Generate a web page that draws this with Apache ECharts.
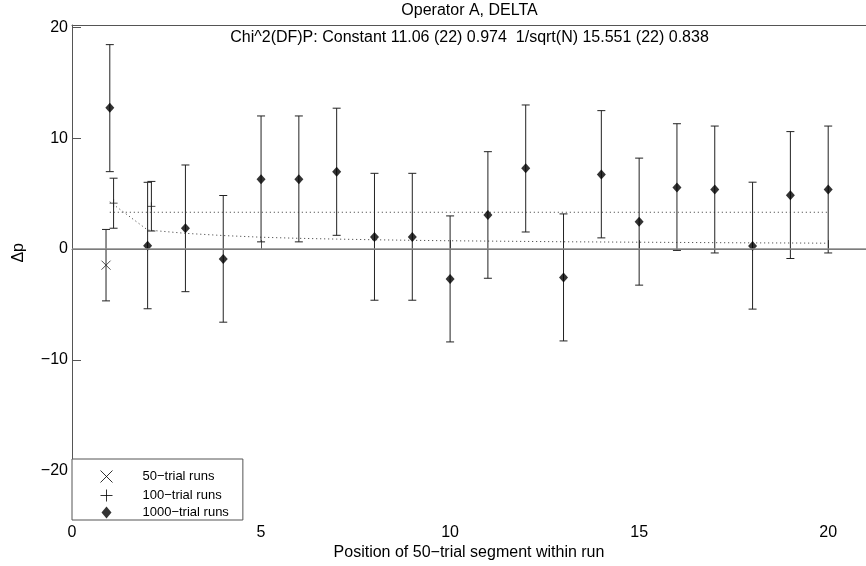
<!DOCTYPE html>
<html>
<head>
<meta charset="utf-8">
<script src="https://cdn.jsdelivr.net/npm/echarts@6/dist/echarts.min.js"></script>
<style>html,body{margin:0;padding:0;background:#fff}#c{width:866px;height:566px}</style>
</head>
<body>
<div id="c"></div>
<script>
// ---- data ----
const positions = [1, 2, 3, 4, 5, 6, 7, 8, 9, 10, 11, 12, 13, 14, 15, 16, 17, 18, 19, 20];
const mean1000 = [12.75, 0.30, 1.87, -0.89, 6.30, 6.30, 6.96, 1.10, 1.10, -2.69, 3.08, 7.28, -2.57, 6.72, 2.46, 5.56, 5.36, 0.27, 4.85, 5.36];
const high1000 = [18.43, 6.02, 7.58, 4.83, 12.00, 12.00, 12.70, 6.83, 6.83, 2.99, 8.78, 12.99, 3.17, 12.48, 8.20, 11.30, 11.09, 6.03, 10.59, 11.09];
const low1000  = [6.98, -5.38, -3.84, -6.59, 0.65, 0.65, 1.24, -4.61, -4.61, -8.37, -2.63, 1.54, -8.28, 1.01, -3.25, -0.12, -0.35, -5.41, -0.85, -0.35];

const pos50 = [0.9];
const mean50 = [-1.45];
const high50 = [1.77];
const low50 = [-4.67];

const pos100 = [1.1, 2.1];
const mean100 = [4.14, 3.85];
const high100 = [6.39, 6.10];
const low100 = [1.88, 1.63];

const fitPositions = [1, 2, 3, 4, 5, 6, 7, 8, 9, 10, 11, 12, 13, 14, 15, 16, 17, 18, 19, 20];
const sqrtFit = [4.26, 1.72, 1.42, 1.22, 1.07, 0.97, 0.90, 0.84, 0.79, 0.75, 0.72, 0.69, 0.66, 0.64, 0.62, 0.60, 0.58, 0.56, 0.55, 0.53];
const constPositions = [1, 20];
const constFit = [3.32, 3.32];

const xTicks = [0, 5, 10, 15, 20];
const yTicks = [-20, -10, 0, 10, 20];

const titleText = 'Operator A, DELTA';
const subText = 'Chi^2(DF)P: Constant 11.06 (22) 0.974  1/sqrt(N) 15.551 (22) 0.838';
const xName = 'Position of 50\u2212trial segment within run';
const yName = '\u0394p';
const names = ['50\u2212trial runs', '100\u2212trial runs', '1000\u2212trial runs'];

// ---- build ----
const FONT = '"Liberation Sans", Arial, Helvetica, sans-serif';
const zip = (a, b) => a.map((v, i) => [v, b[i]]);
const zip3 = (a, b, c) => a.map((v, i) => [v, b[i], c[i]]);
const minus = v => String(v).replace('-', '\u2212');

function errBars(params, api) {
  const x = api.value(0), lo = api.value(1), hi = api.value(2);
  const p1 = api.coord([x, hi]);
  const p2 = api.coord([x, lo]);
  const w = 4;
  const st = { stroke: '#222', lineWidth: 1 };
  return {
    type: 'group',
    children: [
      { type: 'line', shape: { x1: p1[0], y1: p1[1], x2: p2[0], y2: p2[1] }, style: st },
      { type: 'line', shape: { x1: p1[0] - w, y1: p1[1], x2: p1[0] + w, y2: p1[1] }, style: st },
      { type: 'line', shape: { x1: p2[0] - w, y1: p2[1], x2: p2[0] + w, y2: p2[1] }, style: st }
    ]
  };
}

const xPath = 'path://M0,0L10,10M10,0L0,10';
const plusPath = 'path://M5,0L5,10M0,5L10,5';
const diamondPath = 'path://M5,0L10,6L5,12L0,6Z';

const chart = echarts.init(document.getElementById('c'), null, { renderer: 'canvas' });
chart.setOption({
  animation: false,
  backgroundColor: '#fff',
  textStyle: { fontFamily: FONT, color: '#000' },
  title: [
    { text: titleText, left: 469.5, top: 3, textAlign: 'center', padding: 0,
      textStyle: { fontFamily: FONT, fontSize: 16, fontWeight: 'normal', color: '#000' } },
    { text: subText, left: 469.5, top: 30, textAlign: 'center', padding: 0,
      textStyle: { fontFamily: FONT, fontSize: 16, fontWeight: 'normal', color: '#000' } }
  ],
  grid: { left: 72, top: 25, width: 796, height: 496, containLabel: false },
  legend: {
    orient: 'vertical', left: 72, top: 459,
    padding: [9, 14, 1, 26], itemWidth: 62, itemHeight: 12, itemGap: 2,
    backgroundColor: '#fff', borderColor: '#555', borderWidth: 1, borderRadius: 0,
    textStyle: { fontFamily: FONT, fontSize: 13, color: '#000' },
    data: [
      { name: names[0], icon: xPath, itemStyle: { color: 'none', borderColor: '#000', borderWidth: 1 } },
      { name: names[1], icon: plusPath, itemStyle: { color: 'none', borderColor: '#000', borderWidth: 1 } },
      { name: names[2], icon: diamondPath, itemStyle: { color: '#000', borderWidth: 0 } }
    ]
  },
  xAxis: [{
    type: 'value', min: 0, max: 21,
    name: xName, nameLocation: 'middle', nameGap: 28,
    nameTextStyle: { fontFamily: FONT, fontSize: 16, color: '#000' },
    axisLine: { show: true, lineStyle: { color: '#555', width: 1 } },
    axisTick: { show: true, inside: true, length: 9, customValues: xTicks, lineStyle: { color: '#555' } },
    axisLabel: { customValues: xTicks, margin: 11, fontFamily: FONT, fontSize: 16, color: '#000', formatter: minus },
    splitLine: { show: false }
  }, {
    type: 'value', min: 0, max: 21, position: 'top',
    axisLine: { show: true, onZero: false, lineStyle: { color: '#555', width: 1 } },
    axisTick: { show: false }, axisLabel: { show: false }, splitLine: { show: false }
  }],
  yAxis: {
    type: 'value', min: -23.8, max: 20.2,
    axisLine: { show: true, onZero: false, lineStyle: { color: '#555', width: 1 } },
    axisTick: { show: true, inside: true, length: 9, customValues: yTicks, lineStyle: { color: '#555' } },
    axisLabel: { customValues: yTicks, margin: 4, fontFamily: FONT, fontSize: 16, color: '#000', formatter: minus },
    splitLine: { show: false }
  },
  graphic: [{
    type: 'text', left: 11, top: 243, rotation: Math.PI / 2,
    style: { text: yName, fontFamily: FONT, fontSize: 16, fill: '#000' }
  }],
  series: [
    { type: 'line', name: 'const', data: zip(constPositions, constFit), symbol: 'none', silent: true,
      lineStyle: { color: '#333', width: 1, type: [1, 3] }, z: 1,
      markLine: { silent: true, symbol: 'none', label: { show: false },
        lineStyle: { color: '#8a8a8a', width: 1.5, type: 'solid' }, data: [{ yAxis: 0 }] } },
    { type: 'line', name: 'sqrt', data: zip(fitPositions, sqrtFit), symbol: 'none', silent: true,
      lineStyle: { color: '#333', width: 1, type: [1, 3] }, z: 1 },
    { type: 'custom', name: 'err1000', renderItem: errBars, data: zip3(positions, low1000, high1000), encode: { x: 0, y: [1, 2] }, z: 2 },
    { type: 'custom', name: 'err50', renderItem: errBars, data: zip3(pos50, low50, high50), encode: { x: 0, y: [1, 2] }, z: 2 },
    { type: 'custom', name: 'err100', renderItem: errBars, data: zip3(pos100, low100, high100), encode: { x: 0, y: [1, 2] }, z: 2 },
    { type: 'scatter', name: names[0], data: zip(pos50, mean50), symbol: xPath, symbolSize: 9,
      itemStyle: { color: 'none', borderColor: '#222', borderWidth: 1 }, z: 3 },
    { type: 'scatter', name: names[1], data: zip(pos100, mean100), symbol: plusPath, symbolSize: 8,
      itemStyle: { color: 'none', borderColor: '#222', borderWidth: 1 }, z: 3 },
    { type: 'scatter', name: names[2], data: zip(positions, mean1000), symbol: diamondPath, symbolSize: [9, 10],
      itemStyle: { color: '#000' }, z: 3 }
  ]
});
</script>
</body>
</html>
